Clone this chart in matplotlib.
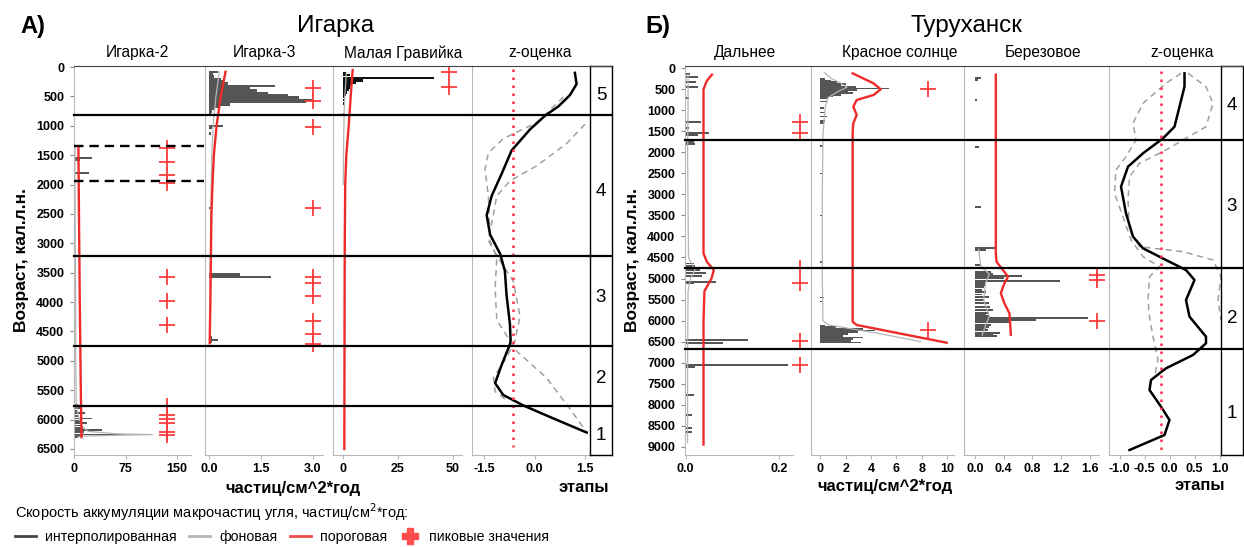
import numpy as np
import matplotlib.pyplot as plt
from matplotlib.lines import Line2D
from matplotlib import transforms

plt.rcParams['font.family'] = ['Liberation Sans', 'DejaVu Sans']
plt.rcParams['axes.unicode_minus'] = False

W, H = 1244, 547


def fx(px):
    return px / W


def fy(py):
    return 1 - py / H


# ---------------- Игарка ----------------
ig2_age = [1550, 1580, 1800, 5750, 5800, 5850, 5890, 5940, 5980, 6020, 6060, 6100,
           6140, 6180, 6210, 6250, 6280, 6300]
ig2_val = [26, 8, 22, 5, 8, 4, 16, 6, 26, 10, 18, 8, 12, 40, 14, 84, 12, 6]
ig2_bg_age = [1350, 2000, 3000, 4000, 5000, 5750, 5900, 6000, 6100, 6200, 6240, 6255, 6280, 6300]
ig2_bg_val = [1, 1, 1.5, 2, 2, 3, 5, 8, 10, 20, 60, 114, 10, 5]
ig2_thr_age = [1350, 2500, 4000, 5500, 6300]
ig2_thr_val = [6, 6.8, 8, 9.5, 10.5]
ig2_peaks = [1380, 1610, 1830, 1970, 3570, 3990, 4385, 5760, 5920, 5990, 6050, 6210, 6270]
ig2_peak_x = 136
ig2_gap = [1340, 1945]

ig3_age = [80, 120, 160, 200, 240, 280, 320, 360, 400, 440, 480, 520, 560, 600, 640,
           680, 720, 760, 800, 1000, 1040, 1130, 2400, 3530, 3570, 4220, 4600, 4640, 4680]
ig3_val = [0.25, 0.12, 0.15, 0.35, 0.4, 0.55, 1.9, 1.2, 1.4, 1.7, 2.3, 2.6, 3.0, 2.8,
           0.6, 0.3, 0.15, 0.1, 0.05, 0.4, 0.1, 0.05, 0.05, 0.9, 1.8, 0.05, 0.1, 0.25, 0.1]
ig3_bg_age = [80, 500, 1000, 1500, 2500, 3500, 4700]
ig3_bg_val = [0.3, 0.2, 0.12, 0.08, 0.05, 0.04, 0.03]
ig3_thr_age = [80, 500, 1000, 1500, 2000, 2500, 3000, 3500, 4000, 4700]
ig3_thr_val = [0.48, 0.34, 0.22, 0.14, 0.1, 0.07, 0.06, 0.05, 0.04, 0.02]
ig3_peaks = [362, 580, 1016, 2400, 3570, 3680, 3890, 4320, 4540, 4720]
ig3_peak_x = 3.0

mg_age = [100, 140, 185, 230, 270, 310, 350, 390, 430, 470, 510, 560, 620, 800, 1000]
mg_val = [1.5, 3, 41.5, 9, 6, 4, 3, 2.5, 2, 1.5, 1, 0.8, 0.5, 0.3, 0.2]
mg_bg_age = [100, 300, 500, 800, 1200, 1600, 2000]
mg_bg_val = [1.5, 1.2, 0.8, 0.5, 0.3, 0.2, 0.1]
mg_thr_age = [50, 500, 1000, 1500, 2000, 3000, 4500, 6500]
mg_thr_val = [4.4, 3.5, 2.6, 1.5, 1.0, 0.8, 0.7, 0.6]
mg_peaks = [77, 347]
mg_peak_x = 48

zig_age = [100, 290, 480, 670, 830, 1060, 1420, 1810, 2190, 2520, 2850, 3180, 3470,
           3880, 4370, 4650, 4720, 5060, 5380, 5580, 5760, 5980, 6220]
zig_val = [1.20, 1.25, 1.05, 0.71, 0.31, -0.13, -0.68, -0.97, -1.27, -1.42, -1.32, -1.02,
           -0.88, -0.83, -0.73, -0.71, -0.73, -0.97, -1.17, -0.93, -0.33, 0.56, 1.55]
zig_a_age = [510, 946, 1220, 1463, 1739, 2192, 2957, 3242, 3764, 4305, 4659, 4834, 5291, 5814, 6215]
zig_a_val = [0.86, 0.07, -0.93, -1.37, -1.47, -1.37, -1.32, -1.12, -1.17, -1.12, -0.73,
             -0.53, 0.36, 1.05, 1.55]
zig_b_age = [973, 1299, 1681, 1939, 2192, 2957, 3300, 3645, 4244, 4659, 4944, 5291, 5523, 5669]
zig_b_val = [1.50, 0.96, 0.07, -0.73, -1.12, -1.37, -1.02, -0.63, -0.43, -0.58, -0.83,
             -1.22, -1.17, -0.83]
zig_crit = -0.65
ig_bounds = [810, 3220, 4740, 5770]
ig_stages = ['5', '4', '3', '2', '1']
ig_stage_age = [490, 2110, 3920, 5300, 6270]

# ---------------- Туруханск ----------------
dal_age = [136, 215, 318, 437, 714, 1270, 1427, 1531, 1587, 1750, 1800, 4640, 4700,
           4800, 4877, 4941, 5076, 5115, 6463, 6527, 7058, 7112, 7771, 8247, 8563, 8644]
dal_val = [0.009, 0.026, 0.022, 0.026, 0.008, 0.032, 0.008, 0.05, 0.026, 0.017, 0.02,
           0.017, 0.02, 0.03, 0.043, 0.034, 0.064, 0.017, 0.132, 0.079, 0.218, 0.02,
           0.017, 0.013, 0.013, 0.013]
dal_bg_age = [150, 1000, 2000, 4500, 4800, 5000, 5300, 7000, 8900]
dal_bg_val = [0.005, 0.005, 0.004, 0.006, 0.02, 0.01, 0.005, 0.004, 0.004]
dal_thr_age = [150, 300, 500, 1000, 4400, 4600, 4800, 5000, 5300, 6000, 8950]
dal_thr_val = [0.056, 0.045, 0.038, 0.038, 0.038, 0.045, 0.06, 0.055, 0.04, 0.038, 0.038]
dal_peaks = [1270, 1531, 4758, 5115, 6495, 7058]
dal_peak_x = 0.244

kr_age = [250, 290, 330, 370, 410, 450, 480, 510, 550, 590, 630, 670, 710, 790, 950,
          1050, 1150, 1250, 1300, 1850, 2500, 3500, 4600, 5450, 5550, 6120, 6160, 6200,
          6240, 6280, 6320, 6360, 6400, 6440, 6480, 6520]
kr_val = [0.4, 0.8, 1.3, 2.0, 1.6, 2.8, 5.4, 2.9, 2.2, 2.6, 1.6, 1.0, 0.6, 0.5, 0.3,
          0.4, 0.5, 0.4, 0.3, 0.2, 0.15, 0.15, 0.1, 0.25, 0.2, 0.4, 1.2, 3.4, 4.3, 3.0,
          2.2, 1.8, 3.4, 2.6, 2.4, 3.2]
kr_bg_age = [100, 250, 350, 450, 550, 700, 900, 1200, 1600, 3000, 5000, 6000, 6100,
             6200, 6300, 6400, 6500]
kr_bg_val = [0.3, 0.9, 1.6, 2.1, 1.4, 0.6, 0.4, 0.3, 0.2, 0.15, 0.15, 0.2, 0.6, 2.5,
             4.5, 6.2, 7.9]
kr_thr_age = [119, 200, 357, 500, 635, 754, 913, 1111, 1309, 1500, 6027, 6106, 6527]
kr_thr_val = [2.55, 3.1, 4.2, 4.77, 4.2, 2.87, 2.6, 2.87, 2.6, 2.55, 2.55, 2.87, 9.98]
kr_peaks = [500, 6225]
kr_peak_x = 8.5

ber_age = [238, 278, 754, 1865, 3292, 4282, 4322, 4679, 4758, 4838, 4893, 4941, 4996,
           5052, 5100, 5155, 5210, 5274, 5320, 5380, 5433, 5511, 5590, 5670, 5749, 5828,
           5870, 5900, 5947, 5990, 6040, 6106, 6150, 6185, 6230, 6289, 6330, 6368]
ber_val = [0.09, 0.04, 0.03, 0.05, 0.09, 0.29, 0.15, 0.08, 0.04, 0.22, 0.25, 0.66, 0.41,
           1.19, 0.14, 0.16, 0.12, 0.1, 0.15, 0.1, 0.19, 0.12, 0.19, 0.21, 0.25, 0.19,
           0.15, 0.2, 1.58, 0.85, 0.47, 0.22, 0.2, 0.16, 0.18, 0.35, 0.25, 0.3]
ber_bg_age = [4300, 4700, 4900, 5100, 5500, 5900, 6100, 6350]
ber_bg_val = [0.05, 0.08, 0.2, 0.15, 0.12, 0.2, 0.15, 0.1]
ber_thr_age = [150, 4400, 4600, 4798, 4957, 5115, 5352, 5590, 5828, 6066, 6336]
ber_thr_val = [0.29, 0.29, 0.3, 0.39, 0.46, 0.41, 0.36, 0.41, 0.48, 0.49, 0.5]
ber_peaks = [4917, 5036, 6004]
ber_peak_x = 1.7

ztu_age = [119, 437, 913, 1389, 1666, 2022, 2340, 2816, 3449, 4005, 4282, 4560, 4798,
           5036, 5512, 5908, 6384, 6541, 6820, 7136, 7414, 7652, 8049, 8366, 8723, 9080]
ztu_val = [0.30, 0.30, 0.20, 0.10, -0.13, -0.53, -0.83, -0.97, -0.87, -0.73, -0.53,
           -0.07, 0.33, 0.50, 0.33, 0.40, 0.73, 0.73, 0.47, -0.07, -0.37, -0.40, -0.17,
           0.00, -0.10, -0.80]
ztu_a_age = [119, 437, 833, 1389, 1705, 1943, 2260, 2578, 3133, 3846, 4243, 4362, 4560,
             4957, 5512, 5987]
ztu_a_val = [0.37, 0.73, 0.87, 0.73, 0.27, -0.07, -0.60, -0.80, -0.83, -0.80, -0.60,
             0.27, 0.87, 1.03, 0.97, 1.03]
ztu_b_age = [119, 357, 833, 1309, 1705, 2102, 2419, 2973, 3529, 4084, 4480, 4719, 4957,
             5512, 5908, 6384, 6939, 7335]
ztu_b_val = [0.23, -0.07, -0.53, -0.73, -0.67, -0.87, -1.07, -1.10, -0.93, -0.77, -0.53,
             -0.20, -0.40, -0.43, -0.40, -0.33, -0.23, -0.30]
ztu_crit = -0.17
tu_bounds = [1700, 4750, 6670]
tu_stages = ['4', '3', '2', '1']
tu_stage_age = [873, 3290, 5947, 8206]

BAR = '#555555'
BG = '#b5b5b5'
RED = '#ee2a2a'
PLUS = '#ff3b3b'
SEP = '#b8b8b8'

fig = plt.figure(figsize=(12.44, 5.47), dpi=100)

TOP, BOT = 66, 455
ig_ylim = (BOT - 67) / (382 / 6500), (TOP - 67) / (382 / 6500)
tu_ylim = (BOT - 68.3) / 0.04204, (TOP - 68.3) / 0.04204


def column(x0, x1, zero, ppu, ylim, ticks, labels, gap=10, yticks=None):
    ax = fig.add_axes([fx(x0), fy(BOT), fx(x1) - fx(x0), (BOT - TOP) / H])
    ax.set_facecolor('none')
    lo, hi = (x0 - zero) / ppu, (x1 - zero) / ppu
    ax.set_xlim(lo, hi)
    ax.set_ylim(*ylim)
    for s in ['top', 'right']:
        ax.spines[s].set_visible(False)
    ax.spines['left'].set_color(SEP)
    ax.spines['bottom'].set_color(SEP)
    ax.spines['bottom'].set_bounds(lo, hi - gap / ppu)
    ax.set_xticks(ticks)
    ax.set_xticklabels(labels, fontweight='bold', fontsize=9)
    ax.tick_params(axis='x', length=3, color=SEP, pad=2.5)
    if yticks is None:
        ax.set_yticks([])
    else:
        ax.set_yticks(yticks)
        ax.set_yticklabels([str(t) for t in yticks], fontweight='bold', fontsize=9)
        ax.tick_params(axis='y', length=3, color='#888888', pad=4)
    return ax


def charcoal(ax, age, val, bg_age, bg_val, thr_age, thr_val, peaks, peak_x, h, color=BAR):
    ax.barh(age, val, height=h, color=color, lw=0, zorder=2)
    ax.plot(bg_val, bg_age, color=BG, lw=0.9, zorder=3)
    ax.plot(thr_val, thr_age, color=RED, lw=1.7, zorder=4)
    ax.plot([peak_x] * len(peaks), peaks, ls='none', marker='+', ms=11, mew=1.3,
            color=PLUS, zorder=5)


def zscore(ax, age, val, a_age, a_val, b_age, b_val, crit):
    ax.plot(a_val, a_age, color='#a0a0a0', lw=1.1, dashes=(4, 3))
    ax.plot(b_val, b_age, color='#a0a0a0', lw=1.1, dashes=(4, 3))
    ax.plot(val, age, color='black', lw=1.8)
    ax.plot([crit, crit], [age[0] - 60, age[-1] + 250], color='#ff3355', lw=1.8,
            ls=(0, (1, 2.2)))


def stage_box(x0, x1, ylim, names, pos):
    ax = fig.add_axes([fx(x0), fy(BOT), fx(x1) - fx(x0), (BOT - TOP) / H])
    ax.set_facecolor('none')
    ax.set_xlim(0, 1)
    ax.set_ylim(*ylim)
    ax.set_xticks([])
    ax.set_yticks([])
    for s in ax.spines.values():
        s.set_color('black')
        s.set_linewidth(1.0)
    for n, p in zip(names, pos):
        ax.text(0.5, p, n, ha='center', va='center', fontsize=13.5)
    return ax


def boundaries(ax, x0, x1, bounds):
    tr = transforms.blended_transform_factory(fig.transFigure, ax.transData)
    for b in bounds:
        fig.add_artist(Line2D([fx(x0), fx(x1)], [b, b], transform=tr, color='black', lw=1.6))
    fig.add_artist(Line2D([fx(x0), fx(x1)], [fy(TOP), fy(TOP)], transform=fig.transFigure,
                          color='#444444', lw=0.8))


# ---- left panel
ax1 = column(74, 205, 74.3, 0.685, ig_ylim, [0, 75, 150], ['0', '75', '150'],
             gap=14, yticks=list(range(0, 6501, 500)))
charcoal(ax1, ig2_age, ig2_val, ig2_bg_age, ig2_bg_val, ig2_thr_age, ig2_thr_val,
         ig2_peaks, ig2_peak_x, 25)
ax1.hlines(ig2_gap, 0, 190, colors='black', lw=1.7, linestyles=(0, (4, 2.5)), zorder=6)

ax2 = column(205, 333, 209, 34.5, ig_ylim, [0, 1.5, 3.0], ['0.0', '1.5', '3.0'])
charcoal(ax2, ig3_age, ig3_val, ig3_bg_age, ig3_bg_val, ig3_thr_age, ig3_thr_val,
         ig3_peaks, ig3_peak_x, 40)

ax3 = column(333, 472, 343, 2.2, ig_ylim, [0, 25, 50], ['0', '25', '50'])
charcoal(ax3, mg_age, mg_val, mg_bg_age, mg_bg_val, mg_thr_age, mg_thr_val,
         mg_peaks, mg_peak_x, 42, color='#111111')

ax4 = column(472, 590, 534.5, 33.67, ig_ylim, [-1.5, 0, 1.5], ['-1.5', '0.0', '1.5'], gap=0)
zscore(ax4, zig_age, zig_val, zig_a_age, zig_a_val, zig_b_age, zig_b_val, zig_crit)

stage_box(590, 612, ig_ylim, ig_stages, ig_stage_age)
boundaries(ax4, 74, 612, ig_bounds)

# ---- right panel
ax5 = column(685, 811, 685.7, 468.5, tu_ylim, [0, 0.2], ['0.0', '0.2'],
             gap=18, yticks=list(range(0, 9001, 500)))
charcoal(ax5, dal_age, dal_val, dal_bg_age, dal_bg_val, dal_thr_age, dal_thr_val,
         dal_peaks, dal_peak_x, 40)

ax6 = column(811, 964, 820.4, 12.65, tu_ylim, [0, 2, 4, 6, 8, 10],
             ['0', '2', '4', '6', '8', '10'])
charcoal(ax6, kr_age, kr_val, kr_bg_age, kr_bg_val, kr_thr_age, kr_thr_val,
         kr_peaks, kr_peak_x, 40)

ax7 = column(964, 1109, 975, 71.7, tu_ylim, [0, 0.4, 0.8, 1.2, 1.6],
             ['0.0', '0.4', '0.8', '1.2', '1.6'])
charcoal(ax7, ber_age, ber_val, ber_bg_age, ber_bg_val, ber_thr_age, ber_thr_val,
         ber_peaks, ber_peak_x, 45)

ax8 = column(1109, 1221, 1169.5, 50, tu_ylim, [-1, -0.5, 0, 0.5, 1],
             ['-1.0', '-0.5', '0.0', '0.5', '1.0'], gap=0)
zscore(ax8, ztu_age, ztu_val, ztu_a_age, ztu_a_val, ztu_b_age, ztu_b_val, ztu_crit)

stage_box(1221, 1243, tu_ylim, tu_stages, tu_stage_age)
boundaries(ax8, 685, 1243, tu_bounds)

# ---- texts
fig.text(fx(20), fy(27), 'А)', fontsize=17, fontweight='bold', va='center')
fig.text(fx(336), fy(26), 'Игарка', fontsize=17.5, ha='center', va='center')
fig.text(fx(645), fy(27), 'Б)', fontsize=17, fontweight='bold', va='center')
fig.text(fx(966), fy(26), 'Туруханск', fontsize=17.5, ha='center', va='center')

for name, cx in [('Игарка-2', 137), ('Игарка-3', 264), ('Малая Гравийка', 403),
                 ('z-оценка', 540), ('Дальнее', 745), ('Красное солнце', 900),
                 ('Березовое', 1043), ('z-оценка', 1182)]:
    fig.text(fx(cx), fy(53), name, fontsize=11.2, ha='center', va='center')

fig.text(fx(22), fy(260), 'Возраст, кал.л.н.', rotation=90, fontsize=12.5,
         fontweight='bold', ha='center', va='center')
fig.text(fx(633), fy(260), 'Возраст, кал.л.н.', rotation=90, fontsize=12.5,
         fontweight='bold', ha='center', va='center')

fig.text(fx(293), fy(488), 'частиц/см^2*год', fontsize=12, fontweight='bold',
         ha='center', va='center')
fig.text(fx(584), fy(488), 'этапы', fontsize=12, fontweight='bold', ha='center', va='center')
fig.text(fx(885), fy(486), 'частиц/см^2*год', fontsize=12, fontweight='bold',
         ha='center', va='center')
fig.text(fx(1200), fy(486), 'этапы', fontsize=12, fontweight='bold', ha='center', va='center')

fig.text(fx(15), fy(512), 'Скорость аккумуляции макрочастиц угля, частиц/см$^2$*год:',
         fontsize=10.5, va='center')

handles = [Line2D([], [], color='#444444', lw=2),
           Line2D([], [], color=BG, lw=2),
           Line2D([], [], color='#f04a4a', lw=2),
           Line2D([], [], color='#ff4d4d', marker='P', ls='none', ms=11)]
labels = ['интерполированная', 'фоновая', 'пороговая', 'пиковые значения']
fig.legend(handles, labels, loc='center left', bbox_to_anchor=(fx(8), fy(537)), ncol=4,
           frameon=False, fontsize=10.2, handlelength=1.5, handletextpad=0.6,
           columnspacing=0.9, borderpad=0)

fig.savefig('out.png', dpi=100)
